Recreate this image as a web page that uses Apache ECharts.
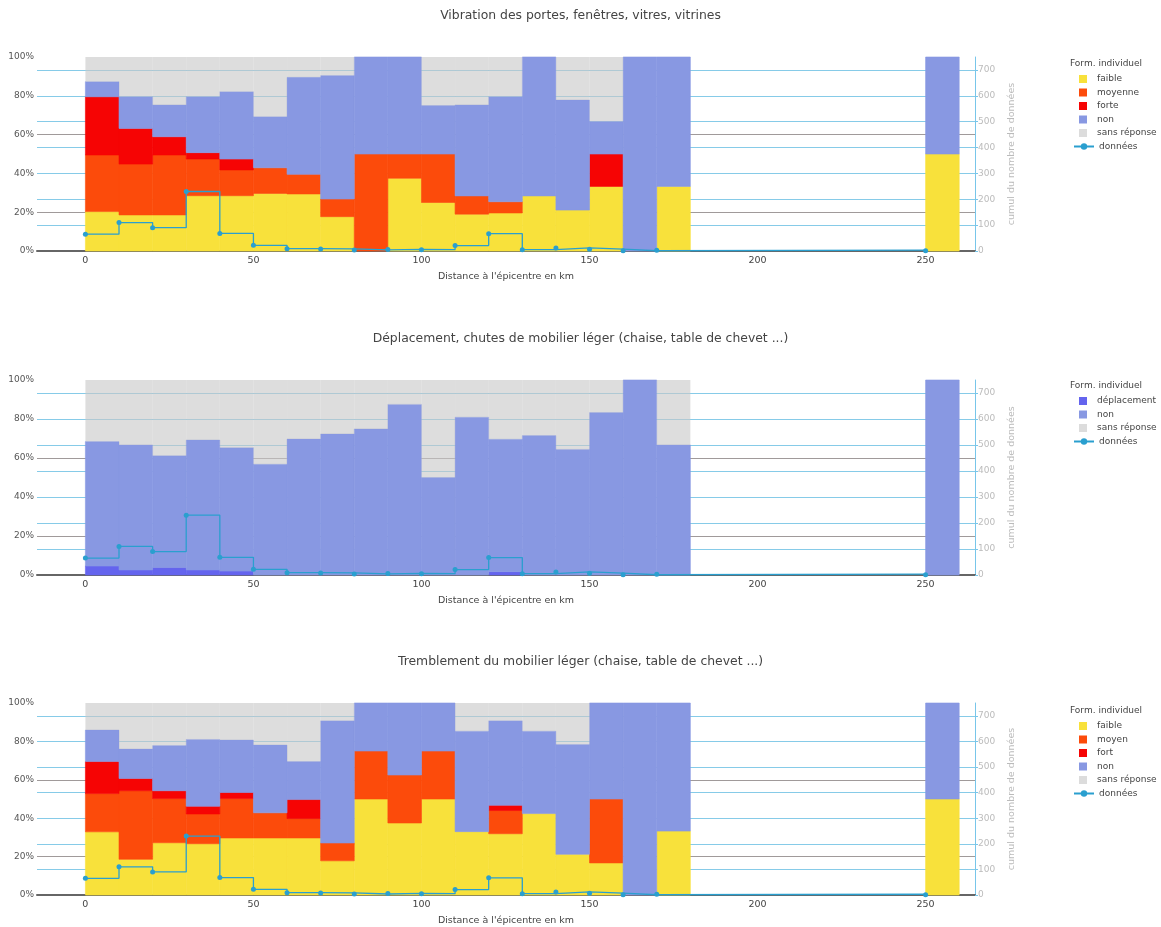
<!DOCTYPE html>
<html><head><meta charset="utf-8">
<script src="https://cdn.jsdelivr.net/npm/echarts@6/dist/echarts.min.js"></script>
<style>html,body{margin:0;padding:0;background:#fff}#c{width:1161px;height:927px}</style>
</head><body><div id="c"></div>
<script>
// ---------- data ----------
const binStart = [0,10,20,30,40,50,60,70,80,90,100,110,120,130,140,150,160,170,250];
const binWidth = 10;
const xTickValues = [0,50,100,150,200,250];
const pctTickLabels = ['0%','20%','40%','60%','80%','100%'];
const countTickValues = [0,100,200,300,400,500,600,700];
const donnees = [65,110,90,230,68,22,9,8,4,6,5,21,67,5,12,7,1,3,1];

const titles = [
  'Vibration des portes, fenêtres, vitres, vitrines',
  'Déplacement, chutes de mobilier léger (chaise, table de chevet ...)',
  'Tremblement du mobilier léger (chaise, table de chevet ...)'
];

// panel 1
const p1Faible  = [20.3,18.6,18.6,28.5,28.5,29.7,29.4,17.7,0,37.5,25,19,19.6,28.4,21.1,33.3,0,33.3,50];
const p1Moyenne = [29.2,26.2,30.9,18.9,13.3,13.2,10.1,9.1,50,12.5,25,9.4,5.8,0,0,0,0,0,0];
const p1Forte   = [30,18.4,9.4,3.3,5.6,0,0,0,0,0,0,0,0,0,0,16.7,0,0,0];
const p1Non     = [7.8,16.3,16.4,28.8,34.7,26.3,50,63.6,50,50,25,46.9,54.1,71.6,56.7,16.7,100,66.7,50];
const p1Sans    = [12.7,20.5,24.7,20.5,17.9,30.8,10.5,9.6,0,0,25,24.7,20.5,0,22.2,33.3,0,0,0];

// panel 2
const p2Depl = [4.6,2.6,3.8,2.6,2.0,0,0,0,0,0,0,0,1.7,0,0,0,0,0,0];
const p2Non  = [63.8,64.1,57.4,66.6,63.3,56.8,69.7,72.3,74.9,87.5,50,80.9,67.9,71.5,64.4,83.3,100,66.7,100];
const p2Sans = [31.6,33.3,38.8,30.8,34.7,43.2,30.3,27.7,25.1,12.5,50,19.1,30.4,28.5,35.6,16.7,0,33.3,0];

// panel 3
const p3Faible = [32.9,18.6,27.2,26.7,29.7,29.7,29.7,17.8,50,37.5,50,33,31.9,42.4,21.2,16.7,0,33.3,50];
const p3Moyen  = [19.9,35.7,23,15.5,20.5,13.1,10.1,9.3,25,25,25,0,12.1,0,0,33.3,0,0,0];
const p3Fort   = [16.7,6.4,4.1,4,3.2,0,9.9,0,0,0,0,0,2.7,0,0,0,0,0,0];
const p3Non    = [16.4,15.3,23.5,34.8,27.3,35.3,19.8,63.6,25,37.5,25,52.3,44,42.9,57.2,50,100,66.7,50];
const p3Sans   = [14.1,24,22.2,19,19.3,21.9,30.5,9.3,0,0,0,14.7,9.3,14.7,21.6,0,0,0,0];

// ---------- styles ----------
const C = {
  faible:'#f8e13b', moyen:'#fc4b0b', fort:'#f60404', non:'#8898e2',
  sans:'rgba(200,200,200,0.62)', sansLegend:'#dcdcdc', depl:'#6464ee', line:'#2a9fcf'
};
const FONT = 'DejaVu Sans';
const X_MIN = -14.4, X_MAX = 264.7;
const GRID_LEFT = 37, GRID_RIGHT = 186;
const gridTops = [57, 380, 703];
const gridHeights = [194, 195, 193];
const legendTops = [65, 387, 712];

const panels = [
  {bars:[['faible',p1Faible,C.faible],['moyenne',p1Moyenne,C.moyen],['forte',p1Forte,C.fort],['non',p1Non,C.non],['sans réponse',p1Sans,C.sans]]},
  {bars:[['déplacement',p2Depl,C.depl],['non',p2Non,C.non],['sans réponse',p2Sans,C.sans]]},
  {bars:[['faible',p3Faible,C.faible],['moyen',p3Moyen,C.moyen],['fort',p3Fort,C.fort],['non',p3Non,C.non],['sans réponse',p3Sans,C.sans]]}
];

function makeRender(color, opaque) {
  return function (params, api) {
    const x0 = api.value(0), x1 = api.value(1), b = api.value(2), t = api.value(3);
    if (!(t > b)) return null;
    const pTop = api.coord([x0, t]);
    const pBot = api.coord([x1, b]);
    const style = {fill:color};
    if (opaque) { style.stroke = color; style.lineWidth = 0.6; }
    return {type:'rect', shape:{x:pTop[0], y:pTop[1], width:pBot[0]-pTop[0], height:pBot[1]-pTop[1]},
      style};
  };
}

const option = {
  animation:false,
  textStyle:{fontFamily:FONT},
  title:[], grid:[], xAxis:[], yAxis:[], series:[], legend:[]
};

panels.forEach((p, i) => {
  option.title.push({text:titles[i], left:'center', top:gridTops[i]-47, padding:0,
    textStyle:{fontFamily:FONT, fontSize:12.4, fontWeight:'normal', color:'#444'}});
  option.title.push({text:'Form. individuel', left:1070, top:legendTops[i]-6, padding:0,
    textStyle:{fontFamily:FONT, fontSize:9, fontWeight:'normal', color:'#444'}});
  option.grid.push({left:GRID_LEFT, right:GRID_RIGHT, top:gridTops[i], height:gridHeights[i]});
  option.xAxis.push({type:'value', gridIndex:i, min:X_MIN, max:X_MAX,
    name:"Distance à l'épicentre en km", nameLocation:'middle', nameGap:21,
    nameTextStyle:{fontFamily:FONT, fontSize:9.5, color:'#444'},
    axisLine:{show:true, lineStyle:{color:'#666', width:2}},
    axisTick:{show:false},
    axisLabel:{customValues:xTickValues, margin:5, fontSize:9.5, color:'#444', fontFamily:FONT},
    splitLine:{show:false}});
  option.yAxis.push({type:'value', gridIndex:i, min:0, max:100, interval:20, position:'left',
    axisLine:{show:false}, axisTick:{show:false},
    axisLabel:{formatter:(v)=>pctTickLabels[Math.round(v/20)], margin:3, fontSize:9, color:'#555', fontFamily:FONT},
    splitLine:{show:true, lineStyle:{color:['rgba(0,0,0,0)','#a09a9a','#8fb8cc','#a09a9a','#8fb8cc','rgba(0,0,0,0)'], width:1}}});
  option.yAxis.push({type:'value', gridIndex:i, min:0, max:750, interval:100, position:'right',
    name:'cumul du nombre de données', nameLocation:'middle', nameRotate:90, nameGap:28,
    nameTextStyle:{fontFamily:FONT, fontSize:9.5, color:'#bbb'},
    axisLine:{show:true, lineStyle:{color:'#78c6ea', width:1}},
    axisTick:{show:true, length:3, lineStyle:{color:'#78c6ea'}},
    axisLabel:{showMaxLabel:false, formatter:(v)=>countTickValues.includes(v)?String(v):'', margin:3, fontSize:9, color:'#bbb', fontFamily:FONT},
    splitLine:{show:true, lineStyle:{color:['rgba(0,0,0,0)','#86cbe8','#86cbe8','#86cbe8','#86cbe8','#86cbe8','#86cbe8','#86cbe8','rgba(0,0,0,0)'], width:1}}});

  const barNames = [];
  const base = binStart.map(() => 0);
  p.bars.forEach(([name, vals, color]) => {
    barNames.push(name);
    const data = binStart.map((x, k) => {
      const b = base[k], t = b + vals[k];
      base[k] = t;
      return [x, x + binWidth, b, t];
    });
    option.series.push({type:'custom', name, xAxisIndex:i, yAxisIndex:2*i,
      renderItem:makeRender(color, color !== C.sans), itemStyle:{color},
      encode:{x:[0,1], y:[2,3]}, silent:true, data});
  });
  option.series.push({type:'line', name:'données', xAxisIndex:i, yAxisIndex:2*i+1,
    step:'end', symbol:'circle', symbolSize:5, z:5,
    lineStyle:{color:C.line, width:1.3}, itemStyle:{color:C.line},
    data: binStart.map((x, k) => [x, donnees[k]])});

  option.legend.push({data:barNames.map(n => ({name:n, itemStyle: n==='sans réponse'?{color:C.sansLegend}:undefined})),
    orient:'vertical', left:1079, top:legendTops[i]+8, itemWidth:8, itemHeight:8, itemGap:1.5,
    icon:'rect', selectedMode:false, padding:0,
    textStyle:{fontFamily:FONT, fontSize:9, color:'#444', lineHeight:12, padding:[0,0,0,5]}});
  option.legend.push({data:['données'], orient:'vertical', left:1073,
    top:legendTops[i]+8 + barNames.length*13.5, itemWidth:20, itemHeight:8,
    selectedMode:false, padding:0,
    textStyle:{fontFamily:FONT, fontSize:9, color:'#444', lineHeight:12}});
});

const chart = echarts.init(document.getElementById('c'), null, {renderer:'canvas'});
chart.setOption(option);
</script></body></html>
